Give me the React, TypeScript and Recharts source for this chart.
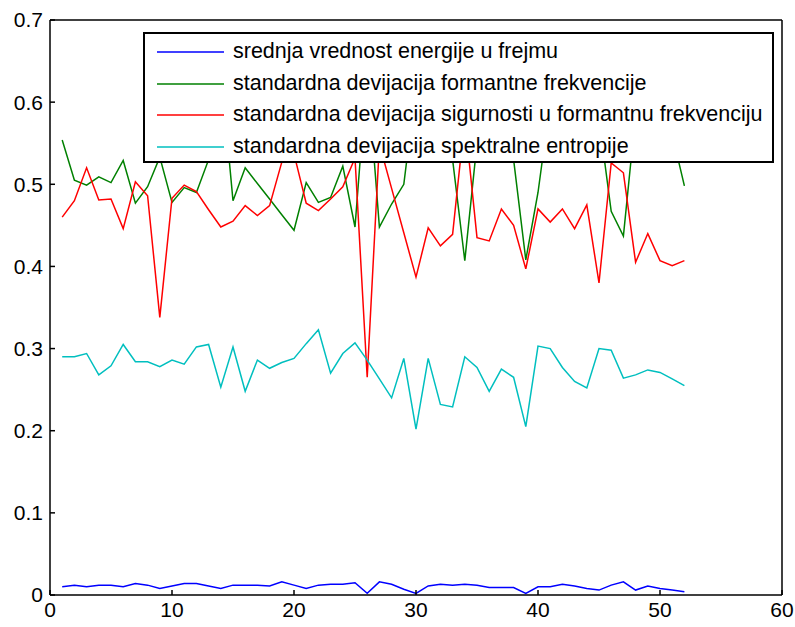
import React from "react";
import {
  LineChart, Line, XAxis, YAxis, Legend,
} from "recharts";

// frame index 1..52
const frames = [
  1, 2, 3, 4, 5, 6, 7, 8, 9, 10, 11, 12, 13, 14, 15, 16, 17, 18, 19, 20,
  21, 22, 23, 24, 25, 26, 27, 28, 29, 30, 31, 32, 33, 34, 35, 36, 37, 38, 39, 40,
  41, 42, 43, 44, 45, 46, 47, 48, 49, 50, 51, 52,
];

const energyMean = [
  0.010, 0.012, 0.010, 0.012, 0.012, 0.010, 0.014, 0.012, 0.008, 0.011,
  0.014, 0.014, 0.011, 0.008, 0.012, 0.012, 0.012, 0.011, 0.016, 0.012,
  0.008, 0.012, 0.013, 0.013, 0.015, 0.002, 0.016, 0.013, 0.007, 0.002,
  0.011, 0.013, 0.012, 0.013, 0.012, 0.009, 0.009, 0.009, 0.002, 0.010,
  0.010, 0.013, 0.011, 0.008, 0.006, 0.012, 0.016, 0.006, 0.011, 0.008,
  0.006, 0.004,
];

const formantStd = [
  0.554, 0.505, 0.499, 0.509, 0.502, 0.529, 0.477, 0.497, 0.533, 0.478,
  0.496, 0.490, 0.530, 0.640, 0.480, 0.520, 0.501, 0.482, 0.463, 0.444,
  0.502, 0.478, 0.484, 0.522, 0.448, 0.640, 0.448, 0.476, 0.500, 0.620,
  0.650, 0.600, 0.530, 0.407, 0.550, 0.620, 0.600, 0.530, 0.408, 0.490,
  0.600, 0.630, 0.610, 0.620, 0.580, 0.467, 0.437, 0.585, 0.610, 0.600,
  0.561, 0.498,
];

const certaintyStd = [
  0.460, 0.480, 0.520, 0.481, 0.482, 0.446, 0.503, 0.486, 0.338, 0.483,
  0.499, 0.491, 0.469, 0.448, 0.455, 0.474, 0.462, 0.474, 0.527, 0.537,
  0.477, 0.468, 0.482, 0.497, 0.532, 0.265, 0.549, 0.495, 0.441, 0.387,
  0.447, 0.425, 0.439, 0.580, 0.435, 0.431, 0.470, 0.450, 0.397, 0.470,
  0.454, 0.470, 0.446, 0.475, 0.380, 0.526, 0.514, 0.405, 0.440, 0.407,
  0.401, 0.407,
];

const entropyStd = [
  0.290, 0.290, 0.294, 0.268, 0.279, 0.305, 0.284, 0.284, 0.278, 0.286,
  0.281, 0.302, 0.305, 0.253, 0.302, 0.248, 0.286, 0.276, 0.283, 0.288,
  0.306, 0.323, 0.270, 0.294, 0.307, 0.286, 0.263, 0.240, 0.288, 0.202,
  0.288, 0.232, 0.229, 0.290, 0.277, 0.248, 0.275, 0.265, 0.205, 0.303,
  0.300, 0.277, 0.260, 0.252, 0.300, 0.298, 0.264, 0.268, 0.274, 0.271,
  0.263, 0.255,
];

const xTicks = [0, 10, 20, 30, 40, 50, 60];
const yTicks = [0, 0.1, 0.2, 0.3, 0.4, 0.5, 0.6, 0.7];

const seriesNames = [
  "srednja vrednost energije u frejmu",
  "standardna devijacija formantne frekvencije",
  "standardna devijacija sigurnosti u formantnu frekvenciju",
  "standardna devijacija spektralne entropije",
];

const data = frames.map((x, i) => ({
  x,
  energy: energyMean[i],
  formant: formantStd[i],
  certainty: certaintyStd[i],
  entropy: entropyStd[i],
}));

const FONT = "'Liberation Sans', Arial, sans-serif";
const tickStyle = { fontSize: 21, fill: "#000", fontFamily: FONT };

function LegendBox({ payload }: any) {
  return (
    <div style={{ paddingTop: 2 }}>
      {(payload || []).map((p: any) => (
        <div
          key={p.value}
          style={{ display: "flex", alignItems: "center", height: 31.7 }}
        >
          <svg width={79} height={4} style={{ flex: "none" }}>
            <line x1={12} x2={79} y1={2} y2={2} stroke={p.color} strokeWidth={1.5} />
          </svg>
          <span
            style={{
              marginLeft: 9, fontSize: 21.5, fontFamily: FONT, color: "#000",
              whiteSpace: "nowrap", lineHeight: 1,
            }}
          >
            {p.value}
          </span>
        </div>
      ))}
    </div>
  );
}

export default function App() {
  return (
    <div style={{ position: "absolute", left: 0, top: 0, background: "#fff", fontFamily: FONT }}>
      <LineChart
        width={795}
        height={627}
        data={data}
        margin={{ top: 19, right: 12, left: 0, bottom: 0 }}
      >
        <XAxis
          dataKey="x"
          type="number"
          domain={[0, 60]}
          ticks={xTicks}
          interval={0}
          height={32}
          tickSize={-5}
          tickMargin={12}
          stroke="#000"
          strokeWidth={1.5}
          tick={tickStyle}
        />
        <XAxis
          xAxisId="top"
          orientation="top"
          dataKey="x"
          type="number"
          domain={[0, 60]}
          ticks={xTicks}
          interval={0}
          height={1}
          tickSize={-5}
          stroke="#000"
          strokeWidth={1.5}
          tick={false}
        />
        <YAxis
          type="number"
          domain={[0, 0.7]}
          ticks={yTicks}
          interval={0}
          width={50}
          tickSize={-5}
          tickMargin={12}
          stroke="#000"
          strokeWidth={1.5}
          tick={tickStyle}
        />
        <YAxis
          yAxisId="right"
          orientation="right"
          type="number"
          domain={[0, 0.7]}
          ticks={yTicks}
          interval={0}
          width={1}
          tickSize={-5}
          stroke="#000"
          strokeWidth={1.5}
          tick={false}
        />
        <Line dataKey="energy" name={seriesNames[0]} stroke="#0000ff" strokeWidth={1.5} dot={false} isAnimationActive={false} />
        <Line dataKey="formant" name={seriesNames[1]} stroke="#008000" strokeWidth={1.5} dot={false} isAnimationActive={false} />
        <Line dataKey="certainty" name={seriesNames[2]} stroke="#ff0000" strokeWidth={1.5} dot={false} isAnimationActive={false} />
        <Line dataKey="entropy" name={seriesNames[3]} stroke="#00bfbf" strokeWidth={1.5} dot={false} isAnimationActive={false} />
        <Legend
          layout="vertical"
          align="center"
          verticalAlign="middle"
          content={<LegendBox />}
          wrapperStyle={{
            left: 143, top: 32, width: 631, height: 131, boxSizing: "border-box",
            background: "#fff", border: "2px solid #000",
          }}
        />
      </LineChart>
    </div>
  );
}
